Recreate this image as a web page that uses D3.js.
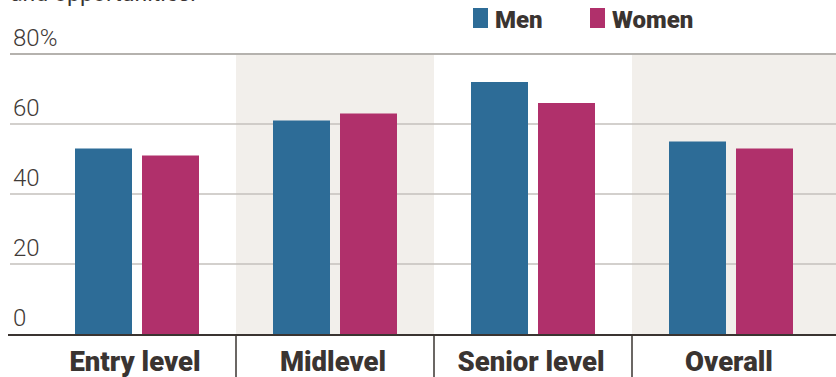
<!DOCTYPE html>
<html>
<head>
<meta charset="utf-8">
<script src="https://cdn.jsdelivr.net/npm/d3@7"></script>
<style>
  html, body { margin: 0; padding: 0; background: #fff; }
  svg { display: block; }
</style>
</head>
<body>
<svg id="chart" width="836" height="377"></svg>
<script>
const categories = ["Entry level", "Midlevel", "Senior level", "Overall"];
const seriesNames = ["Men", "Women"];
const menValues = [53, 61, 72, 55];
const womenValues = [51, 63, 66, 53];
const yTicks = [0, 20, 40, 60, 80];
const yTickLabels = ["0", "20", "40", "60", "80%"];
const shadedCategories = ["Midlevel", "Overall"];
const subtitleTail = "and opportunities.";

const colors = { Men: "#2d6c97", Women: "#b0306b" };
const textColor = "#3a3431";

const W = 836, H = 377;
const svg = d3.select("#chart");

const y = d3.scaleLinear().domain([0, 80]).range([334, 54]);
const x = d3.scaleBand().domain(categories).range([38, 830]).padding(0);
const inner = d3.scaleBand().domain(seriesNames).range([37, 161]).paddingInner(10 / 67).paddingOuter(0);

// clipped subtitle at top (the reference crops it at the top edge)
svg.append("text")
  .attr("x", 10).attr("y", 1)
  .attr("font-family", "Roboto, sans-serif")
  .attr("font-size", 23)
  .attr("fill", textColor)
  .text(subtitleTail);

// shaded bands
svg.append("g").selectAll("rect")
  .data(shadedCategories)
  .join("rect")
  .attr("x", d => x(d))
  .attr("width", d => categories.indexOf(d) === categories.length - 1 ? W - x(d) : x.bandwidth())
  .attr("y", y(80))
  .attr("height", y(0) - y(80))
  .attr("fill", "#f2efeb");

// gridlines
svg.append("g").selectAll("line")
  .data(yTicks.filter(t => t > 0))
  .join("line")
  .attr("x1", 10).attr("x2", W)
  .attr("y1", d => y(d)).attr("y2", d => y(d))
  .attr("stroke", d => d === 80 ? "#b5b2ae" : "#c4c1bd")
  .attr("stroke-width", d => d === 80 ? 2 : 1.5);

// tick labels
svg.append("g").selectAll("text")
  .data(yTicks)
  .join("text")
  .attr("x", 13)
  .attr("y", d => y(d) - 8)
  .attr("font-family", "Roboto, sans-serif")
  .attr("font-weight", 300)
  .attr("font-size", 24)
  .attr("fill", "#3f3a37")
  .text((d, i) => yTickLabels[i]);

// bars
const data = categories.map((c, i) => ({ cat: c, values: [
  { key: "Men", value: menValues[i] },
  { key: "Women", value: womenValues[i] }
]}));

const groups = svg.append("g").selectAll("g")
  .data(data)
  .join("g")
  .attr("transform", d => `translate(${x(d.cat)},0)`);

groups.selectAll("rect")
  .data(d => d.values)
  .join("rect")
  .attr("x", d => inner(d.key))
  .attr("width", inner.bandwidth())
  .attr("y", d => y(d.value))
  .attr("height", d => y(0) - y(d.value))
  .attr("fill", d => colors[d.key]);

// baseline
svg.append("line")
  .attr("x1", 8).attr("x2", W)
  .attr("y1", y(0) + 1).attr("y2", y(0) + 1)
  .attr("stroke", "#3a3431").attr("stroke-width", 2);

// category separators
svg.append("g").selectAll("line")
  .data(categories.slice(1))
  .join("line")
  .attr("x1", d => x(d)).attr("x2", d => x(d))
  .attr("y1", y(0) + 1).attr("y2", H)
  .attr("stroke", "#3a3431").attr("stroke-width", 1.5);

// category labels
svg.append("g").selectAll("text")
  .data(categories)
  .join("text")
  .attr("x", d => x(d) + 97)
  .attr("y", 371)
  .attr("text-anchor", "middle")
  .attr("font-family", "Roboto, sans-serif")
  .attr("font-weight", 900)
  .attr("font-size", 27.5)
  .attr("fill", textColor)
  .text(d => d);

// legend
const legendX = [473, 590];
const legend = svg.append("g").selectAll("g")
  .data(seriesNames)
  .join("g")
  .attr("transform", (d, i) => `translate(${legendX[i]},0)`);
legend.append("rect")
  .attr("x", 0).attr("y", 8).attr("width", 15).attr("height", 20)
  .attr("fill", d => colors[d]);
legend.append("text")
  .attr("x", 22).attr("y", 28)
  .attr("font-family", "Roboto, sans-serif")
  .attr("font-weight", 900)
  .attr("font-size", 24)
  .attr("fill", textColor)
  .text(d => d);
</script>
</body>
</html>
